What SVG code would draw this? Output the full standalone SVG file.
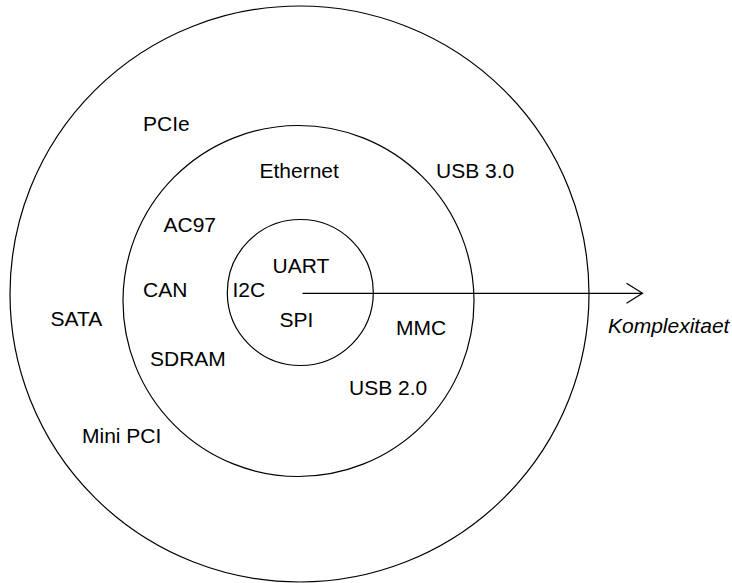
<svg xmlns="http://www.w3.org/2000/svg" width="732" height="583" viewBox="0 0 732 583">
  <style>
    .ring { fill: none; stroke: #000; stroke-width: 1.2; }
    .lbl { font-family: "Liberation Sans", Arial, sans-serif; font-size: 21px; fill: #000; }
    .axis { font-style: italic; }
    .conn { stroke: #000; stroke-width: 1.2; fill: none; }
  </style>
  <defs>
    <marker id="open-arrow" viewBox="0 0 18 22" refX="17" refY="11" markerWidth="18" markerHeight="22" markerUnits="userSpaceOnUse" orient="auto">
      <path d="M1,1 L17,11 L1,21" fill="none" stroke="#000" stroke-width="1.2"/>
    </marker>
  </defs>

  <rect width="732" height="583" fill="#fff"/>

  <!-- outer ring: high-speed interfaces -->
  <g id="ring-outer">
    <ellipse class="ring" cx="299.5" cy="294" rx="289.5" ry="288"/>
    <text class="lbl" x="143" y="131">PCIe</text>
    <text class="lbl" x="436" y="177.5">USB 3.0</text>
    <text class="lbl" x="50.5" y="326">SATA</text>
    <text class="lbl" x="82" y="443">Mini PCI</text>
  </g>

  <!-- middle ring -->
  <g id="ring-middle">
    <circle class="ring" cx="298.5" cy="301" r="175.5"/>
    <text class="lbl" x="259.5" y="177.5">Ethernet</text>
    <text class="lbl" x="163.5" y="232">AC97</text>
    <text class="lbl" x="143" y="297">CAN</text>
    <text class="lbl" x="150" y="366">SDRAM</text>
    <text class="lbl" x="396" y="334.5">MMC</text>
    <text class="lbl" x="349" y="395">USB 2.0</text>
  </g>

  <!-- inner ring: simple serial buses -->
  <g id="ring-inner">
    <circle class="ring" cx="300.3" cy="292.5" r="73"/>
    <text class="lbl" x="272.5" y="273">UART</text>
    <text class="lbl" x="232.5" y="297">I2C</text>
    <text class="lbl" x="279.5" y="327">SPI</text>
  </g>

  <!-- complexity axis -->
  <g id="connectors">
    <line class="conn" x1="302.5" y1="293.3" x2="642.5" y2="293.3" marker-end="url(#open-arrow)"/>
  </g>
  <g id="axis-label">
    <text class="lbl axis" x="608" y="333">Komplexitaet</text>
  </g>
</svg>
